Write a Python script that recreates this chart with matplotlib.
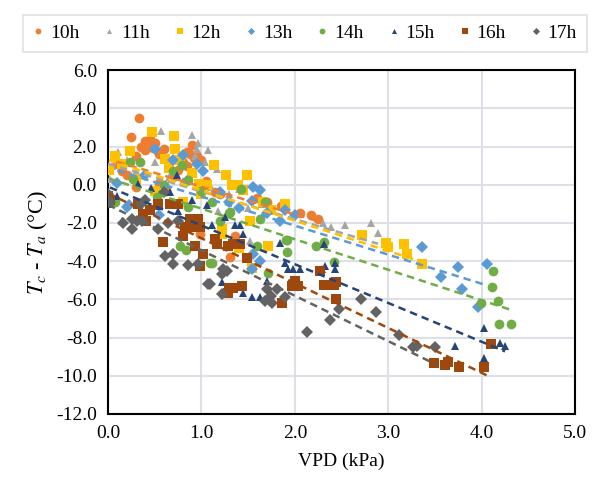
import numpy as np
import matplotlib
matplotlib.use("Agg")
import matplotlib.pyplot as plt

plt.rcParams['font.family'] = ['Liberation Serif', 'DejaVu Serif']
plt.rcParams['mathtext.fontset'] = 'stix'

labels = ["10h", "11h", "12h", "13h", "14h", "15h", "16h", "17h"]
colors = ["#ED7D31", "#A5A5A5", "#FFC000", "#5B9BD5",
          "#70AD47", "#264478", "#9E480E", "#636363"]
markers = ["o", "^", "s", "D", "o", "^", "s", "D"]

# VPD (kPa) and Tc - Ta (C)
x10 = [0.33, 0.25, 0.40, 0.45, 0.50, 0.35, 0.40, 0.55, 0.30, 0.60, 0.85, 0.90, 0.95,
       0.80, 1.00, 0.85, 0.75, 0.20, 0.15, 0.30, 0.55, 0.98, 1.31, 1.36, 1.20,
       1.60, 1.70, 1.85, 2.06, 2.17, 2.25, 0.88, 0.92, 0.10, 0.42, 0.48, 0.70,
       0.62, 1.05, 1.15]
y10 = [3.50, 2.50, 2.30, 2.40, 2.20, 2.00, 1.80, 1.60, 1.50, 1.90, 1.70, 2.10, 1.50,
       1.20, 1.30, 1.00, 0.80, 0.50, 0.70, -0.10, 0.10, -2.60, -3.80, -2.70, -0.50,
       -0.70, -0.90, -1.10, -1.50, -1.60, -1.80, 1.60, 1.40, 1.10, 2.10, 1.95, 0.40,
       -0.30, 0.20, -0.40]

x11 = [0.57, 0.96, 0.95, 1.07, 0.50, 0.11, 0.02, 0.04, 1.04, 1.17, 1.18, 2.30, 2.39,
       2.54, 2.82, 2.89, 0.90, 0.93, 1.52, 1.30, 1.50, 1.85, 0.65, 0.30, 0.00, 1.40,
       0.20, 0.80, 1.10, 1.65]
y11 = [2.80, 2.20, 1.90, 1.80, 1.20, 1.70, 0.30, 1.00, 1.20, 0.85, -1.35, -2.00, -2.20,
       -2.10, -2.00, -2.50, 2.60, 1.50, -2.96, -0.50, -1.20, -1.80, 0.40, 0.70, 0.80, -0.20,
       1.30, 0.20, -0.10, -1.00]

x12 = [0.47, 0.71, 0.72, 0.24, 0.07, 0.01, 0.61, 0.77, 0.97, 1.13, 1.26, 1.33, 1.49,
       1.45, 1.06, 1.66, 1.52, 1.22, 2.72, 2.98, 3.00, 3.17, 3.20, 3.36, 1.39, 0.30,
       0.50, 0.80, 1.22, 1.40, 1.54, 1.71, 0.15, 0.65, 0.90, 1.00, 1.75, 1.90]
y12 = [2.75, 2.55, 1.90, 1.75, 1.50, 0.80, 1.35, 1.30, 0.05, 1.02, 0.50, 0.00, 0.50,
       -0.25, 0.00, -0.90, -1.90, -2.30, -2.65, -3.05, -3.27, -3.10, -3.60, -4.15, 0.00, 0.30,
       -0.30, -0.90, -2.60, -3.30, -4.35, -3.20, 1.10, 0.90, 0.60, -0.50, -1.30, -1.00]

x13 = [0.50, 0.80, 0.95, 1.02, 0.70, 1.55, 1.63, 1.54, 1.90, 1.84, 1.20, 3.36, 3.75,
       3.57, 3.79, 4.06, 3.96, 0.20, 0.23, 1.55, 1.63, 1.54, 0.10, 0.55, 1.30, 2.00,
       0.40, 0.85, 1.40, 1.70]
y13 = [1.90, 1.55, 1.10, 0.70, 1.30, -0.10, -0.26, -0.83, -1.30, -1.90, -0.36, -3.27, -4.30,
       -4.83, -5.45, -4.16, -6.40, -1.14, -1.05, -3.60, -4.00, -4.40, 0.10, -1.60, -0.90, -1.60,
       0.50, 0.20, -1.20, -1.50]

x14 = [0.24, 0.34, 0.79, 0.70, 0.86, 0.27, 0.07, 0.52, 0.86, 1.30, 1.11, 0.77, 0.84,
       1.71, 1.91, 1.60, 1.09, 1.92, 1.92, 2.23, 2.31, 2.42, 4.12, 4.11, 4.17, 3.99,
       4.19, 4.31, 1.42, 1.68, 1.63, 1.31, 1.11, 1.20, 0.02, 0.60, 1.00]
y14 = [1.20, 1.20, 1.05, 0.70, 0.27, 0.30, -0.88, -0.62, -1.14, -1.50, -4.10, -3.20, -3.40,
       -4.60, -2.90, -3.20, -4.10, -2.90, -3.50, -3.20, -3.00, -4.05, -4.50, -5.35, -6.07, -6.20,
       -7.30, -7.30, -0.20, -0.88, -1.80, -1.40, -0.88, -1.90, -0.70, 0.00, -0.30]

x15 = [0.74, 0.46, 0.32, 0.66, 0.15, 0.75, 1.06, 1.11, 1.36, 1.41, 1.45, 1.84, 1.90,
       1.93, 1.98, 1.22, 1.45, 1.54, 1.63, 1.70, 2.06, 2.29, 2.32, 2.43, 2.43, 2.31,
       4.02, 3.72, 4.02, 4.20, 4.25, 0.02, 0.10, 0.90, 0.55, 1.25]
y15 = [0.50, -0.15, 0.05, -0.36, -1.90, -1.35, -1.04, -2.10, -2.10, -2.10, -2.60, -3.05, -4.10,
       -4.40, -4.40, -5.10, -5.66, -5.90, -5.90, -5.04, -4.40, -4.40, -4.26, -4.10, -4.40, -3.10,
       -7.50, -8.45, -9.05, -8.30, -8.45, -1.00, -0.60, -0.80, -1.10, -1.70]

x16 = [0.02, 0.32, 0.54, 0.66, 0.75, 0.37, 0.41, 0.59, 0.88, 0.96, 0.82, 0.93, 0.98,
       0.80, 0.93, 1.02, 0.98, 1.15, 1.17, 1.28, 1.34, 1.41, 1.49, 1.30, 1.34, 1.28,
       1.43, 1.86, 2.00, 1.97, 2.03, 2.27, 2.31, 2.42, 2.44, 2.44, 3.49, 3.61, 3.64,
       3.76, 4.03, 4.10, 0.00, 0.45]
y16 = [-0.78, -1.00, -1.00, -1.00, -1.00, -1.55, -1.90, -3.00, -1.77, -1.77, -2.20, -2.20, -2.20,
       -2.70, -3.20, -3.60, -4.26, -2.86, -3.10, -3.20, -3.10, -3.10, -3.85, -5.40, -5.40, -5.65,
       -5.30, -6.20, -5.04, -5.30, -5.30, -4.50, -5.25, -5.25, -5.10, -6.00, -9.35, -9.45, -9.30,
       -9.56, -9.56, -8.36, -0.60, -1.30]

x17 = [0.02, 0.16, 0.26, 0.26, 0.31, 0.36, 0.54, 0.64, 0.75, 0.61, 0.70, 0.70, 0.86,
       0.96, 1.07, 1.09, 1.22, 1.22, 1.23, 1.27, 1.70, 1.68, 1.76, 1.74, 1.81, 1.90,
       2.13, 2.71, 2.47, 2.38, 2.87, 3.12, 3.27, 3.31, 3.50, 0.40, 0.60, 0.35, 0.00]
y17 = [-0.88, -2.00, -2.30, -1.80, -1.92, -1.92, -2.30, -2.00, -1.92, -3.74, -3.60, -4.16, -4.20,
       -4.16, -5.20, -5.20, -5.70, -4.68, -4.40, -4.50, -5.45, -6.08, -6.20, -5.80, -5.45, -5.87,
       -7.70, -5.97, -6.50, -7.07, -6.65, -7.85, -8.50, -8.45, -8.47, -0.80, -0.40, -1.00, -0.50]

xs = [x10, x11, x12, x13, x14, x15, x16, x17]
ys = [y10, y11, y12, y13, y14, y15, y16, y17]

# linear trend lines (slope, intercept)
slopes = [-1.45, -1.45, -1.59, -1.52, -1.60, -2.03, -2.35, -2.38]
intercepts = [1.35, 1.10, 1.30, 0.90, 0.35, -0.10, -0.45, -1.05]

fig = plt.figure(figsize=(5.95, 4.91), dpi=100)
ax = fig.add_axes([0.1815, 0.157, 0.785, 0.70])

handles = []
for i in range(len(labels)):
    ms = 6 if markers[i] in ("D", "^") else 7
    h, = ax.plot(xs[i], ys[i], linestyle="none", marker=markers[i], color=colors[i],
                 markersize=ms, markeredgewidth=0, label=labels[i], zorder=3)
    handles.append(h)
    xl = np.array([min(xs[i]), max(xs[i])])
    ax.plot(xl, slopes[i] * xl + intercepts[i], linestyle=(0, (3, 2)), color=colors[i],
            linewidth=1.8, zorder=4)

ax.set_xlim(0, 5)
ax.set_ylim(-12, 6)
ax.set_xticks(np.arange(0, 5.01, 1.0))
ax.set_yticks(np.arange(-12, 6.01, 2.0))
ax.set_xticklabels(["%.1f" % v for v in np.arange(0, 5.01, 1.0)])
ax.set_yticklabels(["%.1f" % v for v in np.arange(-12, 6.01, 2.0)])
ax.tick_params(length=0, labelsize=14, pad=8)
ax.grid(True, color="#DDE1E7", linewidth=1.5)
ax.set_axisbelow(True)
for s in ax.spines.values():
    s.set_color("black")
    s.set_linewidth(1.5)

ax.set_xlabel("VPD (kPa)", fontsize=14, labelpad=8)
ax.set_ylabel(r"$T_c$ - $T_a$ (°C)", fontsize=16, labelpad=4)

leg = fig.legend(handles=handles, loc="upper center", bbox_to_anchor=(0.512, 0.99),
                 ncol=8, fontsize=14, frameon=True, fancybox=False, markerscale=0.6,
                 handlelength=0.6, handletextpad=0.3, columnspacing=1.25,
                 borderpad=0.5)
leg.get_frame().set_edgecolor("#D9D9D9")
leg.get_frame().set_linewidth(1.2)

fig.savefig("out.png", dpi=100)
